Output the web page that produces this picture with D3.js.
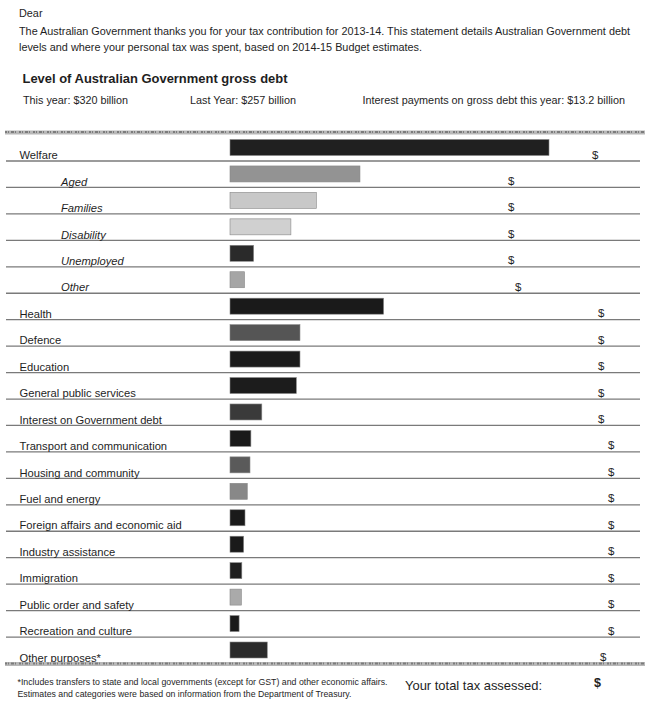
<!DOCTYPE html>
<html>
<head>
<meta charset="utf-8">
<script src="https://cdn.jsdelivr.net/npm/d3@7"></script>
<style>
  html, body { margin: 0; padding: 0; background: #fff; }
  svg { display: block; }
  text { font-family: "Liberation Sans", Arial, sans-serif; fill: #1e1e1e; }
</style>
</head>
<body>
<svg id="chart" width="650" height="711"></svg>
<script>
// ---- data ----
const categories = ["Welfare", "Aged", "Families", "Disability", "Unemployed", "Other",
  "Health", "Defence", "Education", "General public services", "Interest on Government debt",
  "Transport and communication", "Housing and community", "Fuel and energy",
  "Foreign affairs and economic aid", "Industry assistance", "Immigration",
  "Public order and safety", "Recreation and culture", "Other purposes*"];
const sharePct = [35.1, 14.3, 9.5, 6.7, 2.6, 1.6,
  16.9, 7.7, 7.7, 7.3, 3.5,
  2.3, 2.2, 1.9,
  1.65, 1.5, 1.3,
  1.25, 1.0, 4.1];
const welfareParts = ["Aged", "Families", "Disability", "Unemployed", "Other"];
const greeting = "Dear";
const introLines = [
  "The Australian Government thanks you for your tax contribution for 2013-14. This statement details Australian Government debt",
  "levels and where your personal tax was spent, based on 2014-15 Budget estimates."
];
const debtTitle = "Level of Australian Government gross debt";
const debtFacts = ["This year: $320 billion", "Last Year: $257 billion",
  "Interest payments on gross debt this year: $13.2 billion"];
const footnotes = [
  "*Includes transfers to state and local governments (except for GST) and other economic affairs.",
  "Estimates and categories were based on information from the Department of Treasury."
];
const totalLabel = "Your total tax assessed:";

// ---- styling (not data) ----
const tone = {
  "Welfare": "#202020", "Aged": "#939393", "Families": "#c8c8c8", "Disability": "#d0d0d0",
  "Unemployed": "#2a2a2a", "Other": "#a5a5a5", "Health": "#1a1a1a", "Defence": "#555",
  "Education": "#1b1b1b", "General public services": "#1c1c1c", "Interest on Government debt": "#3a3a3a",
  "Transport and communication": "#1a1a1a", "Housing and community": "#5a5a5a",
  "Fuel and energy": "#888", "Foreign affairs and economic aid": "#1a1a1a",
  "Industry assistance": "#1a1a1a", "Immigration": "#1f1f1f", "Public order and safety": "#aaa",
  "Recreation and culture": "#1a1a1a", "Other purposes*": "#2b2b2b"
};
const NARROW = "'Liberation Sans Narrow', 'Arial Narrow', 'Liberation Sans', Arial, sans-serif";

const svg = d3.select("#chart");
const rows = categories.map((c, i) => ({ cat: c, v: sharePct[i], i, sub: welfareParts.includes(c) }));

const x = d3.scaleLinear().domain([0, sharePct[0]]).range([230, 549]);
const y = d3.scalePoint().domain(categories).range([161, 663.5]);

// place a condensed text so that its own width equals the target width
function fitText(xx, yy, size, w, t, bold) {
  const el = svg.append("text").attr("x", xx).attr("y", yy)
    .attr("font-family", NARROW).attr("font-size", size)
    .attr("font-weight", bold ? "bold" : "normal").text(t);
  const L = el.node().getComputedTextLength();
  if (L > w * 1.02) el.attr("font-size", size * w / L);
  el.attr("textLength", w).attr("lengthAdjust", "spacingAndGlyphs");
  return el;
}

// header
fitText(19, 17, 12, 23.5, greeting);
introLines.forEach((t, k) => fitText(19, 35 + k * 15.5, 12, k === 0 ? 611 : 403, t));
fitText(22.5, 83, 15, 265, debtTitle, true);
const factX = [23, 190, 362.5], factW = [105, 106, 262.5];
debtFacts.forEach((t, k) => fitText(factX[k], 103.5, 12, factW[k], t));

// textured bands
function band(yy) {
  svg.append("line").attr("x1", 5).attr("x2", 645).attr("y1", yy).attr("y2", yy)
    .attr("stroke", "#b8b8b8").attr("stroke-width", 4);
  svg.append("line").attr("x1", 5).attr("x2", 645).attr("y1", yy - 0.5).attr("y2", yy - 0.5)
    .attr("stroke", "#7c7c7c").attr("stroke-width", 2).attr("stroke-dasharray", "2 1 1 2 3 1 1 3");
}
band(132.5);

// row rules
const g = svg.append("g");
g.selectAll("line.rule").data(rows.slice(0, rows.length - 1)).join("line")
  .attr("class", "rule")
  .attr("x1", 6).attr("x2", 640)
  .attr("y1", d => y(d.cat)).attr("y2", d => y(d.cat))
  .attr("stroke", "#7a7a7a").attr("stroke-width", 1.3);
band(664);

// bars
g.selectAll("rect.bar").data(rows).join("rect")
  .attr("class", "bar")
  .attr("x", x(0))
  .attr("y", d => y(d.cat) - 21.5)
  .attr("width", d => x(d.v) - x(0))
  .attr("height", 16)
  .attr("fill", d => tone[d.cat])
  .attr("stroke", "#888").attr("stroke-width", 0.6);

// labels
g.selectAll("text.lab").data(rows).join("text")
  .attr("class", "lab")
  .attr("x", d => d.sub ? 61 : 19.5)
  .attr("y", d => y(d.cat) - 1.8)
  .attr("font-size", 11.2)
  .attr("font-style", d => d.sub ? "italic" : "normal")
  .text(d => d.cat);

// dollar column
function dollarX(d) {
  if (d.sub) return d.cat === "Other" ? 515 : 508;
  if (d.i === 0) return 592;
  if (d.i <= 10) return 598;
  if (d.i < rows.length - 1) return 608;
  return 600;
}
g.selectAll("text.dol").data(rows).join("text")
  .attr("class", "dol")
  .attr("x", dollarX)
  .attr("y", d => y(d.cat) - 2.5)
  .attr("font-size", 11.5)
  .text("$");

// footer
footnotes.forEach((t, k) => fitText(17.5, 684.5 + k * 12.5, 10, k === 0 ? 370 : 334, t));
fitText(405, 690, 15.5, 137, totalLabel);
svg.append("text").attr("x", 594).attr("y", 686.5).attr("font-size", 12.5).attr("font-weight", "bold").text("$");
</script>
</body>
</html>
